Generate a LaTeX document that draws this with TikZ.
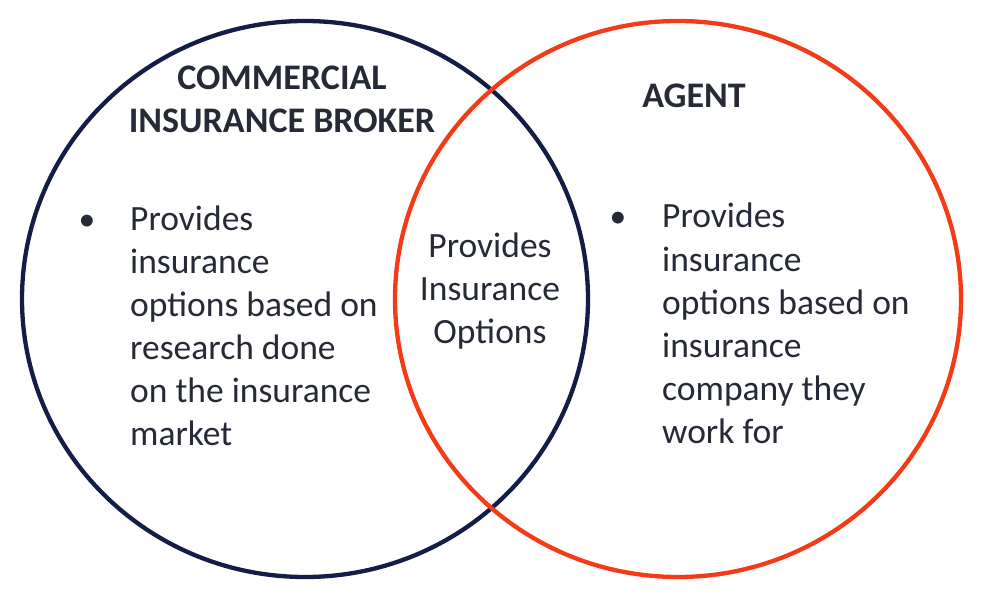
\documentclass[tikz,border=0pt]{standalone}
\usepackage{fontspec}
\setmainfont{Carlito}
\definecolor{navyc}{HTML}{131D45}
\definecolor{redc}{HTML}{F43B17}
\definecolor{textc}{HTML}{262A36}
\begin{document}
\begin{tikzpicture}[x=1pt,y=-1pt,
  ttl/.style={font=\bfseries\fontsize{36}{43}\selectfont,text=textc,inner sep=0pt,anchor=base},
  body/.style={font=\fontsize{35.5}{43}\selectfont,text=textc,inner sep=0pt,anchor=base west},
  mid/.style={font=\fontsize{35.5}{43}\selectfont,text=textc,inner sep=0pt,anchor=base},
  bul/.style={font=\fontsize{33.5}{43}\selectfont,text=textc,inner sep=0pt,anchor=base}]
\useasboundingbox (0,0) rectangle (986,599);
\fill[white] (0,0) rectangle (986,599);
\draw[navyc,line width=4.3pt] (305,299) ellipse [x radius=283,y radius=278];
\draw[redc,line width=4.3pt] (678,299) ellipse [x radius=283,y radius=278];
% titles
\node[ttl] (t1) at (282,90) {COMMERCIAL};
\node[ttl] (t2) at (282,133) {INSURANCE BROKER};
\node[ttl] (t3) at (694,108) {AGENT};
% left block
\node[bul] (b1) at (87,230) {•};
\node[body] (l1) at (130,230) {Provides};
\node[body] (l2) at (130,273) {insurance};
\node[body] (l3) at (130,316) {options based on};
\node[body] (l4) at (130,359) {research done};
\node[body] (l5) at (130,402) {on the insurance};
\node[body] (l6) at (130,445) {market};
% right block
\node[bul] (b2) at (618,228) {•};
\node[body] (r1) at (662,228) {Provides};
\node[body] (r2) at (662,271) {insurance};
\node[body] (r3) at (662,314) {options based on};
\node[body] (r4) at (662,357) {insurance};
\node[body] (r5) at (662,400) {company they};
\node[body] (r6) at (662,443) {work for};
% middle
\node[mid] (m1) at (490,257) {Provides};
\node[mid] (m2) at (490,300) {Insurance};
\node[mid] (m3) at (490,343) {Options};
\end{tikzpicture}
\end{document}
